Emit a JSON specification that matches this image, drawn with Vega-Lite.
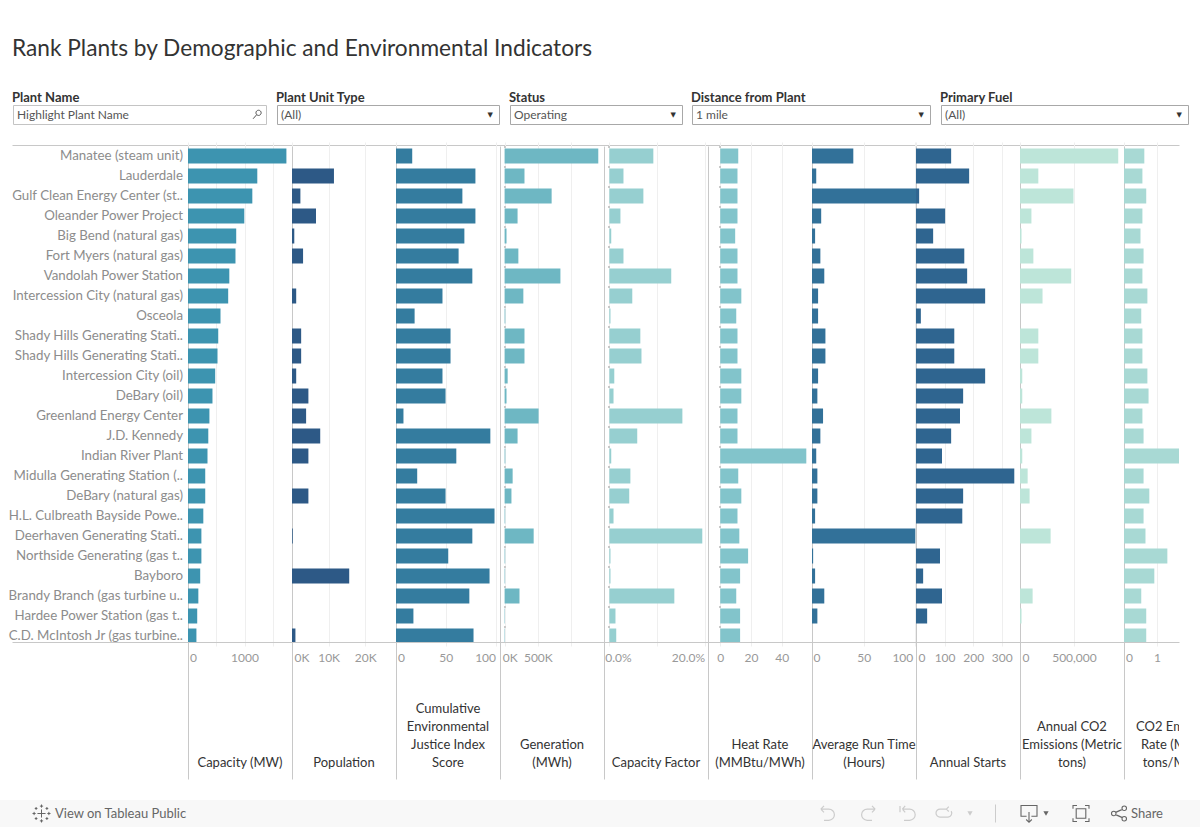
{"$schema":"https://vega.github.io/schema/vega-lite/v6.json","padding":{"left":0,"top":38,"right":0,"bottom":0},"background":"#ffffff",
"title":{"text":"Rank Plants by Demographic and Environmental Indicators","anchor":"start","fontSize":22.7,"fontWeight":"normal","color":"#333333","dx":12,"offset":30},
"config":{"font":"Lato","view":{"stroke":null},"axis":{"title":null,"domainColor":"#c8c8c8","domainWidth":1,"gridColor":"#efefef","tickColor":"#efefef","tickSize":4,"labelColor":"#999999","labelFontSize":12,"labelPadding":6,"labelOverlap":false,"labelFlush":false},"axisY":{"labels":false,"ticks":false,"grid":false,"title":null},"axisX":{"grid":true,"ticks":true},"text":{"fontSize":13}},
"datasets":{"plants":[
{"rank":1,"plant":"Manatee (steam unit)","capacity":1741,"population":null,"ceji":16.3,"generation":1408000,"cf":0.0924,"heat":11.7,"runtime":40,"starts":123,"co2":911000,"rate":0.616},
{"rank":2,"plant":"Lauderdale","capacity":1226,"population":11458,"ceji":79.8,"generation":299000,"cf":0.0297,"heat":11.2,"runtime":4.1,"starts":186,"co2":170000,"rate":0.558},
{"rank":3,"plant":"Gulf Clean Energy Center (st..","capacity":1138,"population":2292,"ceji":66.7,"generation":707000,"cf":0.0715,"heat":11.2,"runtime":101,"starts":11,"co2":496000,"rate":0.674},
{"rank":4,"plant":"Oleander Power Project","capacity":996,"population":6562,"ceji":79.8,"generation":195000,"cf":0.0233,"heat":11.2,"runtime":8.9,"starts":102,"co2":106000,"rate":0.558},
{"rank":5,"plant":"Big Bend (natural gas)","capacity":853,"population":625,"ceji":68.7,"generation":29000,"cf":0.004,"heat":9.7,"runtime":3,"starts":60,"co2":14000,"rate":0.5},
{"rank":6,"plant":"Fort Myers (natural gas)","capacity":840,"population":3021,"ceji":62.9,"generation":207000,"cf":0.0297,"heat":11.2,"runtime":8.1,"starts":169,"co2":124000,"rate":0.593},
{"rank":7,"plant":"Vandolah Power Station","capacity":731,"population":null,"ceji":76.7,"generation":839000,"cf":0.13,"heat":11.2,"runtime":11.9,"starts":179,"co2":475000,"rate":0.558},
{"rank":8,"plant":"Intercession City (natural gas)","capacity":711,"population":1146,"ceji":46.7,"generation":282000,"cf":0.0482,"heat":13.7,"runtime":5.9,"starts":242,"co2":209000,"rate":0.709},
{"rank":9,"plant":"Osceola","capacity":575,"population":null,"ceji":18.7,"generation":11000,"cf":0.0024,"heat":10.4,"runtime":5.9,"starts":17,"co2":null,"rate":0.523},
{"rank":10,"plant":"Shady Hills Generating Stati..","capacity":535,"population":2500,"ceji":54.8,"generation":299000,"cf":0.0651,"heat":11.2,"runtime":13,"starts":134,"co2":170000,"rate":0.558},
{"rank":11,"plant":"Shady Hills Generating Stati..","capacity":522,"population":2500,"ceji":54.8,"generation":299000,"cf":0.0675,"heat":11.2,"runtime":13,"starts":134,"co2":170000,"rate":0.558},
{"rank":12,"plant":"Intercession City (oil)","capacity":481,"population":1146,"ceji":46.7,"generation":46000,"cf":0.0104,"heat":13.7,"runtime":5.9,"starts":242,"co2":21000,"rate":0.709},
{"rank":13,"plant":"DeBary (oil)","capacity":433,"population":4479,"ceji":49.8,"generation":29000,"cf":0.0088,"heat":13.7,"runtime":5.2,"starts":165,"co2":21000,"rate":0.744},
{"rank":14,"plant":"Greenland Energy Center","capacity":379,"population":3854,"ceji":7.5,"generation":511000,"cf":0.1534,"heat":11.2,"runtime":10.7,"starts":154,"co2":291000,"rate":0.558},
{"rank":15,"plant":"J.D. Kennedy","capacity":359,"population":7708,"ceji":94.8,"generation":195000,"cf":0.0586,"heat":11.2,"runtime":8.1,"starts":123,"co2":106000,"rate":0.593},
{"rank":16,"plant":"Indian River Plant","capacity":345,"population":4479,"ceji":60.6,"generation":11000,"cf":0.004,"heat":55.9,"runtime":4.1,"starts":91,"co2":21000,"rate":1.8},
{"rank":17,"plant":"Midulla Generating Station (..","capacity":305,"population":null,"ceji":21.3,"generation":121000,"cf":0.0442,"heat":11.7,"runtime":5.2,"starts":344,"co2":71000,"rate":0.593},
{"rank":18,"plant":"DeBary (natural gas)","capacity":305,"population":4479,"ceji":49.8,"generation":103000,"cf":0.0418,"heat":13.7,"runtime":5.2,"starts":165,"co2":89000,"rate":0.767},
{"rank":19,"plant":"H.L. Culbreath Bayside Powe..","capacity":271,"population":null,"ceji":99,"generation":9000,"cf":0.0088,"heat":11.2,"runtime":3,"starts":162,"co2":null,"rate":0.593},
{"rank":20,"plant":"Deerhaven Generating Stati..","capacity":237,"population":200,"ceji":76.7,"generation":437000,"cf":0.1952,"heat":12.4,"runtime":100,"starts":null,"co2":284000,"rate":0.651},
{"rank":21,"plant":"Northside Generating (gas t..","capacity":237,"population":null,"ceji":52.5,"generation":9000,"cf":0.0024,"heat":18.1,"runtime":1.1,"starts":84,"co2":null,"rate":1.314},
{"rank":22,"plant":"Bayboro","capacity":216,"population":15625,"ceji":94,"generation":8000,"cf":0.0024,"heat":12.9,"runtime":3,"starts":25,"co2":null,"rate":0.919},
{"rank":23,"plant":"Brandy Branch (gas turbine u..","capacity":183,"population":null,"ceji":73.7,"generation":224000,"cf":0.1365,"heat":10.4,"runtime":11.9,"starts":91,"co2":117000,"rate":0.523},
{"rank":24,"plant":"Hardee Power Station (gas t..","capacity":163,"population":null,"ceji":17.5,"generation":6000,"cf":0.0129,"heat":12.9,"runtime":5.2,"starts":39,"co2":14000,"rate":0.674},
{"rank":25,"plant":"C.D. McIntosh Jr (gas turbine..","capacity":149,"population":938,"ceji":77.9,"generation":6000,"cf":0.0145,"heat":12.9,"runtime":null,"starts":null,"co2":null,"rate":0.674}
]},
"vconcat":[
{"hconcat":[
{"width":13,"height":19,"data":{"values":[{}]},"mark":{"type":"text","text":""},"encoding":{}},
{"width":253,"height":19,"view":{"stroke":"#c4c4c4","fill":"#ffffff"},"title":{"text":"Plant Name","anchor":"start","fontSize":13,"fontWeight":"bold","color":"#333333","dx":-1,"offset":0.5},"data":{"values":[{"value":"Highlight Plant Name"}]},"layer":[{"mark":{"type":"text","fontSize":12,"align":"left","dx":4,"color":"#555555"},"encoding":{"x":{"datum":0,"type":"quantitative","scale":{"domain":[0,1]},"axis":null},"text":{"field":"value"}}},{"mark":{"type":"point","filled":false,"stroke":"#555555","strokeWidth":1,"opacity":1,"size":90,"shape":"M0.9,-0.35 A0.55,0.55 0 1 1 -0.2,-0.35 A0.55,0.55 0 1 1 0.9,-0.35 M-0.05,0.05 L-0.8,0.9"},"encoding":{"x":{"datum":0.964,"type":"quantitative","scale":{"domain":[0,1]},"axis":null}}}]},
{"width":11,"height":19,"data":{"values":[{}]},"mark":{"type":"text","text":""},"encoding":{}},
{"width":222,"height":19,"view":{"stroke":"#a8a8a8","fill":"#ffffff"},"title":{"text":"Plant Unit Type","anchor":"start","fontSize":13,"fontWeight":"bold","color":"#333333","dx":-1,"offset":0.5},"data":{"values":[{"value":"(All)"}]},"layer":[{"mark":{"type":"text","fontSize":12,"align":"left","dx":4,"color":"#555555"},"encoding":{"x":{"datum":0,"type":"quantitative","scale":{"domain":[0,1]},"axis":null},"text":{"field":"value"}}},{"mark":{"type":"text","text":"▼","font":"DejaVu Sans","fontSize":7,"align":"right","dx":-6,"color":"#333333"},"encoding":{"x":{"datum":1,"type":"quantitative","scale":{"domain":[0,1]},"axis":null}}}]},
{"width":11,"height":19,"data":{"values":[{}]},"mark":{"type":"text","text":""},"encoding":{}},
{"width":172,"height":19,"view":{"stroke":"#a8a8a8","fill":"#ffffff"},"title":{"text":"Status","anchor":"start","fontSize":13,"fontWeight":"bold","color":"#333333","dx":-1,"offset":0.5},"data":{"values":[{"value":"Operating"}]},"layer":[{"mark":{"type":"text","fontSize":12,"align":"left","dx":4,"color":"#555555"},"encoding":{"x":{"datum":0,"type":"quantitative","scale":{"domain":[0,1]},"axis":null},"text":{"field":"value"}}},{"mark":{"type":"text","text":"▼","font":"DejaVu Sans","fontSize":7,"align":"right","dx":-6,"color":"#333333"},"encoding":{"x":{"datum":1,"type":"quantitative","scale":{"domain":[0,1]},"axis":null}}}]},
{"width":10,"height":19,"data":{"values":[{}]},"mark":{"type":"text","text":""},"encoding":{}},
{"width":238,"height":19,"view":{"stroke":"#a8a8a8","fill":"#ffffff"},"title":{"text":"Distance from Plant","anchor":"start","fontSize":13,"fontWeight":"bold","color":"#333333","dx":-1,"offset":0.5},"data":{"values":[{"value":"1 mile"}]},"layer":[{"mark":{"type":"text","fontSize":12,"align":"left","dx":4,"color":"#555555"},"encoding":{"x":{"datum":0,"type":"quantitative","scale":{"domain":[0,1]},"axis":null},"text":{"field":"value"}}},{"mark":{"type":"text","text":"▼","font":"DejaVu Sans","fontSize":7,"align":"right","dx":-6,"color":"#333333"},"encoding":{"x":{"datum":1,"type":"quantitative","scale":{"domain":[0,1]},"axis":null}}}]},
{"width":11,"height":19,"data":{"values":[{}]},"mark":{"type":"text","text":""},"encoding":{}},
{"width":247,"height":19,"view":{"stroke":"#a8a8a8","fill":"#ffffff"},"title":{"text":"Primary Fuel","anchor":"start","fontSize":13,"fontWeight":"bold","color":"#333333","dx":-1,"offset":0.5},"data":{"values":[{"value":"(All)"}]},"layer":[{"mark":{"type":"text","fontSize":12,"align":"left","dx":4,"color":"#555555"},"encoding":{"x":{"datum":0,"type":"quantitative","scale":{"domain":[0,1]},"axis":null},"text":{"field":"value"}}},{"mark":{"type":"text","text":"▼","font":"DejaVu Sans","fontSize":7,"align":"right","dx":-6,"color":"#333333"},"encoding":{"x":{"datum":1,"type":"quantitative","scale":{"domain":[0,1]},"axis":null}}}]}
],"spacing":0,"bounds":"flush","align":"each"},
{"width":1200,"height":19,"data":{"values":[{}]},"mark":{"type":"text","text":""},"encoding":{}},
{"hconcat":[
{"width":12,"height":1,"data":{"values":[{}]},"mark":{"type":"text","text":"","fontSize":0},"encoding":{}},
{"width":1167,"height":1,"data":{"values":[{"x":0}]},"mark":{"type":"text","text":"","fontSize":0},"encoding":{"x":{"field":"x","type":"quantitative","scale":{"domain":[0,1]},"axis":{"labels":false,"ticks":false,"grid":false,"values":[]}}}}
],"spacing":0,"bounds":"flush","align":"each"},
{"columns":12,"spacing":0,"bounds":"flush","align":"each","concat":[
{"width":12,"height":496,"data":{"values":[{}]},"mark":{"type":"text","text":""},"encoding":{}},
{"width":176,"height":496,"data":{"name":"plants"},"mark":{"type":"text","fontSize":13.3,"align":"right","dx":-5,"color":"#8c8c8c","clip":false},"encoding":{"x":{"datum":1,"type":"quantitative","scale":{"domain":[0,1]},"axis":{"labels":false,"ticks":false,"grid":false,"values":[]}},"y":{"field":"rank","type":"ordinal","scale":{"range":[0,500]},"axis":null},"text":{"field":"plant"}}},
{"width":104,"height":496,"data":{"name":"plants"},"mark":{"type":"bar","color":"#3d94b0","clip":true},"encoding":{"y":{"field":"rank","type":"ordinal","scale":{"domain":[1,2,3,4,5,6,7,8,9,10,11,12,13,14,15,16,17,18,19,20,21,22,23,24,25],"range":[0,500],"paddingInner":0.25,"paddingOuter":0.125},"axis":{}},"x":{"field":"capacity","type":"quantitative","scale":{"domain":[0,1840],"nice":false},"axis":{"values":[0,500,1000,1500],"labelExpr":"datum.value%1000==0?datum.value:''","labelAlign":{"condition":{"test":"datum.value==0","value":"left"},"value":"center"},"labelOffset":{"condition":{"test":"datum.value==0","value":1.5},"value":0}}}}},
{"width":104,"height":496,"data":{"name":"plants"},"mark":{"type":"bar","color":"#2d5986","clip":true},"encoding":{"y":{"field":"rank","type":"ordinal","scale":{"domain":[1,2,3,4,5,6,7,8,9,10,11,12,13,14,15,16,17,18,19,20,21,22,23,24,25],"range":[0,500],"paddingInner":0.25,"paddingOuter":0.125},"axis":{}},"x":{"field":"population","type":"quantitative","scale":{"domain":[0,28400],"nice":false},"axis":{"values":[0,10000,20000],"labelExpr":"(datum.value/1000)+'K'","labelAlign":{"condition":{"test":"datum.value==0","value":"left"},"value":"center"},"labelOffset":{"condition":{"test":"datum.value==0","value":2},"value":0}}}}},
{"width":104,"height":496,"data":{"name":"plants"},"mark":{"type":"bar","color":"#347c9f","clip":true},"encoding":{"y":{"field":"rank","type":"ordinal","scale":{"domain":[1,2,3,4,5,6,7,8,9,10,11,12,13,14,15,16,17,18,19,20,21,22,23,24,25],"range":[0,500],"paddingInner":0.25,"paddingOuter":0.125},"axis":{}},"x":{"field":"ceji","type":"quantitative","scale":{"domain":[0,104.5],"nice":false},"axis":{"values":[0,50,100],"labelAlign":{"condition":[{"test":"datum.value==0","value":"left"},{"test":"datum.value==100","value":"right"}],"value":"center"},"labelOffset":{"condition":{"test":"datum.value==0","value":1.5},"value":0}}}}},
{"width":104,"height":496,"data":{"name":"plants"},"layer":[{"mark":{"type":"rule","color":"#c8c8c8","strokeDash":[2,18]},"encoding":{"x":{"datum":0,"type":"quantitative"}}},{"mark":{"type":"bar","color":"#6eb7c3","clip":true},"encoding":{"y":{"field":"rank","type":"ordinal","scale":{"domain":[1,2,3,4,5,6,7,8,9,10,11,12,13,14,15,16,17,18,19,20,21,22,23,24,25],"range":[0,500],"paddingInner":0.25,"paddingOuter":0.125},"axis":{}},"x":{"field":"generation","type":"quantitative","scale":{"domain":[-69000,1494000],"nice":false,"zero":false},"axis":{"values":[0,500000,1000000],"labelExpr":"datum.value==1000000?'':(datum.value/1000)+'K'","labelAlign":{"condition":{"test":"datum.value==0","value":"left"},"value":"center"},"labelOffset":{"condition":{"test":"datum.value==0","value":-2.3},"value":0}}}}}]},
{"width":104,"height":496,"data":{"name":"plants"},"layer":[{"mark":{"type":"rule","color":"#c8c8c8","strokeDash":[2,18]},"encoding":{"x":{"datum":0,"type":"quantitative"}}},{"mark":{"type":"bar","color":"#96cfd0","clip":true},"encoding":{"y":{"field":"rank","type":"ordinal","scale":{"domain":[1,2,3,4,5,6,7,8,9,10,11,12,13,14,15,16,17,18,19,20,21,22,23,24,25],"range":[0,500],"paddingInner":0.25,"paddingOuter":0.125},"axis":{}},"x":{"field":"cf","type":"quantitative","scale":{"domain":[-0.0112,0.2072],"nice":false,"zero":false},"axis":{"values":[0,0.1,0.2],"labelExpr":"datum.value==0.1?'':format(datum.value,'.1%')","labelAlign":{"condition":[{"test":"datum.value==0","value":"left"},{"test":"datum.value==0.2","value":"right"}],"value":"center"},"labelOffset":{"condition":{"test":"datum.value==0","value":-4.6},"value":0}}}}}]},
{"width":104,"height":496,"data":{"name":"plants"},"layer":[{"mark":{"type":"rule","color":"#c8c8c8","strokeDash":[2,18]},"encoding":{"x":{"datum":0,"type":"quantitative"}}},{"mark":{"type":"bar","color":"#82c4cb","clip":true},"encoding":{"y":{"field":"rank","type":"ordinal","scale":{"domain":[1,2,3,4,5,6,7,8,9,10,11,12,13,14,15,16,17,18,19,20,21,22,23,24,25],"range":[0,500],"paddingInner":0.25,"paddingOuter":0.125},"axis":{}},"x":{"field":"heat","type":"quantitative","scale":{"domain":[-7.95,59.6],"nice":false,"zero":false},"axis":{"values":[0,20,40]}}}}]},
{"width":104,"height":496,"data":{"name":"plants"},"mark":{"type":"bar","color":"#327199","clip":true},"encoding":{"y":{"field":"rank","type":"ordinal","scale":{"domain":[1,2,3,4,5,6,7,8,9,10,11,12,13,14,15,16,17,18,19,20,21,22,23,24,25],"range":[0,500],"paddingInner":0.25,"paddingOuter":0.125},"axis":{}},"x":{"field":"runtime","type":"quantitative","scale":{"domain":[0,100.7],"nice":false},"axis":{"values":[0,50,100],"labelAlign":{"condition":[{"test":"datum.value==0","value":"left"},{"test":"datum.value==100","value":"right"}],"value":"center"},"labelOffset":{"condition":[{"test":"datum.value==0","value":1},{"test":"datum.value==100","value":-2.5}],"value":0}}}}},
{"width":104,"height":496,"data":{"name":"plants"},"mark":{"type":"bar","color":"#2f6590","clip":true},"encoding":{"y":{"field":"rank","type":"ordinal","scale":{"domain":[1,2,3,4,5,6,7,8,9,10,11,12,13,14,15,16,17,18,19,20,21,22,23,24,25],"range":[0,500],"paddingInner":0.25,"paddingOuter":0.125},"axis":{}},"x":{"field":"starts","type":"quantitative","scale":{"domain":[0,364],"nice":false},"axis":{"values":[0,100,200,300],"labelAlign":{"condition":{"test":"datum.value==0","value":"left"},"value":"center"},"labelOffset":{"condition":{"test":"datum.value==0","value":2},"value":0}}}}},
{"width":104,"height":496,"data":{"name":"plants"},"mark":{"type":"bar","color":"#bde5d9","clip":true},"encoding":{"y":{"field":"rank","type":"ordinal","scale":{"domain":[1,2,3,4,5,6,7,8,9,10,11,12,13,14,15,16,17,18,19,20,21,22,23,24,25],"range":[0,500],"paddingInner":0.25,"paddingOuter":0.125},"axis":{}},"x":{"field":"co2","type":"quantitative","scale":{"domain":[0,964500],"nice":false},"axis":{"values":[0,500000],"format":",d","labelAlign":{"condition":{"test":"datum.value==0","value":"left"},"value":"center"},"labelOffset":{"condition":{"test":"datum.value==0","value":2},"value":0}}}}},
{"width":55,"height":496,"data":{"name":"plants"},"mark":{"type":"bar","color":"#a8d9d4","clip":true},"encoding":{"y":{"field":"rank","type":"ordinal","scale":{"domain":[1,2,3,4,5,6,7,8,9,10,11,12,13,14,15,16,17,18,19,20,21,22,23,24,25],"range":[0,500],"paddingInner":0.25,"paddingOuter":0.125},"axis":{}},"x":{"field":"rate","type":"quantitative","scale":{"domain":[0,1.667],"nice":false},"axis":{"values":[0,1],"labelAlign":{"condition":{"test":"datum.value==0","value":"left"},"value":"center"},"labelOffset":{"condition":{"test":"datum.value==0","value":1.5},"value":0}}}}},
{"width":12,"height":137,"data":{"values":[{}]},"mark":{"type":"text","text":""},"encoding":{}},
{"width":176,"height":137,"data":{"values":[{}]},"mark":{"type":"text","text":""},"encoding":{}},
{"width":104,"height":137,"data":{"values":[{"line":0,"text":"Capacity (MW)"}]},"mark":{"type":"text","color":"#333333"},"encoding":{"y":{"field":"line","type":"quantitative","scale":{"domain":[-0.889,6.722],"nice":false,"zero":false},"axis":{"values":[]}},"text":{"field":"text"}}},
{"width":104,"height":137,"data":{"values":[{"line":0,"text":"Population"}]},"mark":{"type":"text","color":"#333333"},"encoding":{"y":{"field":"line","type":"quantitative","scale":{"domain":[-0.889,6.722],"nice":false,"zero":false},"axis":{"values":[]}},"text":{"field":"text"}}},
{"width":104,"height":137,"data":{"values":[{"line":3,"text":"Cumulative"},{"line":2,"text":"Environmental"},{"line":1,"text":"Justice Index"},{"line":0,"text":"Score"}]},"mark":{"type":"text","color":"#333333"},"encoding":{"y":{"field":"line","type":"quantitative","scale":{"domain":[-0.889,6.722],"nice":false,"zero":false},"axis":{"values":[]}},"text":{"field":"text"}}},
{"width":104,"height":137,"data":{"values":[{"line":1,"text":"Generation"},{"line":0,"text":"(MWh)"}]},"mark":{"type":"text","color":"#333333"},"encoding":{"y":{"field":"line","type":"quantitative","scale":{"domain":[-0.889,6.722],"nice":false,"zero":false},"axis":{"values":[]}},"text":{"field":"text"}}},
{"width":104,"height":137,"data":{"values":[{"line":0,"text":"Capacity Factor"}]},"mark":{"type":"text","color":"#333333"},"encoding":{"y":{"field":"line","type":"quantitative","scale":{"domain":[-0.889,6.722],"nice":false,"zero":false},"axis":{"values":[]}},"text":{"field":"text"}}},
{"width":104,"height":137,"data":{"values":[{"line":1,"text":"Heat Rate"},{"line":0,"text":"(MMBtu/MWh)"}]},"mark":{"type":"text","color":"#333333"},"encoding":{"y":{"field":"line","type":"quantitative","scale":{"domain":[-0.889,6.722],"nice":false,"zero":false},"axis":{"values":[]}},"text":{"field":"text"}}},
{"width":104,"height":137,"data":{"values":[{"line":1,"text":"Average Run Time"},{"line":0,"text":"(Hours)"}]},"mark":{"type":"text","color":"#333333"},"encoding":{"y":{"field":"line","type":"quantitative","scale":{"domain":[-0.889,6.722],"nice":false,"zero":false},"axis":{"values":[]}},"text":{"field":"text"}}},
{"width":104,"height":137,"data":{"values":[{"line":0,"text":"Annual Starts"}]},"mark":{"type":"text","color":"#333333"},"encoding":{"y":{"field":"line","type":"quantitative","scale":{"domain":[-0.889,6.722],"nice":false,"zero":false},"axis":{"values":[]}},"text":{"field":"text"}}},
{"width":104,"height":137,"data":{"values":[{"line":2,"text":"Annual CO2"},{"line":1,"text":"Emissions (Metric"},{"line":0,"text":"tons)"}]},"mark":{"type":"text","color":"#333333"},"encoding":{"y":{"field":"line","type":"quantitative","scale":{"domain":[-0.889,6.722],"nice":false,"zero":false},"axis":{"values":[]}},"text":{"field":"text"}}},
{"width":55,"height":137,"data":{"values":[{"line":2,"text":"CO2 Emission"},{"line":1,"text":"Rate (Metric"},{"line":0,"text":"tons/MWh)"}]},"mark":{"type":"text","color":"#333333","clip":true},"encoding":{"x":{"datum":52,"type":"quantitative","scale":{"domain":[0,55],"nice":false},"axis":null},"y":{"field":"line","type":"quantitative","scale":{"domain":[-0.889,6.722],"nice":false,"zero":false},"axis":{"values":[]}},"text":{"field":"text"}}}
]},
{"width":1200,"height":21,"data":{"values":[{}]},"mark":{"type":"text","text":""},"encoding":{}},
{"width":1200,"height":27,"view":{"fill":"#f8f8f8"},"data":{"values":[{}]},"layer":[
{"mark":{"type":"text","text":"View on Tableau Public","align":"left","color":"#666666","fontSize":13},"encoding":{"x":{"datum":55,"type":"quantitative","scale":{"domain":[0,1200],"nice":false},"axis":null}}},
{"mark":{"type":"text","text":"Share","align":"left","color":"#666666","fontSize":13},"encoding":{"x":{"datum":1131,"type":"quantitative"}}},
{"mark":{"type":"point","filled":false,"opacity":1,"stroke":"#666666","strokeWidth":1,"size":324,"shape":"M0,-.45V.45M-.45,0H.45M0,-1V-.65M-.18,-.82H.18M0,1V.65M-.18,.82H.18M-1,0H-.65M-.82,-.18V.18M1,0H.65M.82,-.18V.18M-.6,-.72V-.4M-.75,-.56H-.45M.6,-.72V-.4M.45,-.56H.75M-.6,.72V.4M-.75,.56H-.45M.6,.72V.4M.45,.56H.75"},"encoding":{"x":{"datum":41.5,"type":"quantitative"}}},
{"mark":{"type":"point","filled":false,"opacity":1,"stroke":"#cccccc","strokeWidth":1.2,"size":256,"shape":"M-.9,-.55L-.5,-.95M-.9,-.55L-.5,-.15M-.9,-.55H.1A.7,.7 0 0 1 .1,.85H-.5"},"encoding":{"x":{"datum":828,"type":"quantitative"}}},
{"mark":{"type":"point","filled":false,"opacity":1,"stroke":"#cccccc","strokeWidth":1.2,"size":256,"shape":"M.9,-.55L.5,-.95M.9,-.55L.5,-.15M.9,-.55H-.1A.7,.7 0 0 0 -.1,.85H.5"},"encoding":{"x":{"datum":868,"type":"quantitative"}}},
{"mark":{"type":"point","filled":false,"opacity":1,"stroke":"#cccccc","strokeWidth":1.2,"size":256,"shape":"M-1,-.95V-.15M-.7,-.55L-.35,-.95M-.7,-.55L-.35,-.15M-.7,-.55H.2A.7,.7 0 0 1 .2,.85H-.5"},"encoding":{"x":{"datum":908,"type":"quantitative"}}},
{"mark":{"type":"point","filled":false,"opacity":1,"stroke":"#cccccc","strokeWidth":1.2,"size":256,"shape":"M.3,-.55H-.5A.5,.5 0 0 0 -.5,.45H.5A.5,.5 0 0 0 .9,-.3M.3,-.55L.6,-.85M.3,-.55L.6,-.25"},"encoding":{"x":{"datum":944,"type":"quantitative"}}},
{"mark":{"type":"point","filled":true,"opacity":1,"color":"#cccccc","size":28,"shape":"triangle-down"},"encoding":{"x":{"datum":970,"type":"quantitative"}}},
{"mark":{"type":"point","filled":false,"opacity":1,"stroke":"#cccccc","strokeWidth":1,"size":324,"shape":"M0,-1V1"},"encoding":{"x":{"datum":995.5,"type":"quantitative"}}},
{"mark":{"type":"point","filled":false,"opacity":1,"stroke":"#666666","strokeWidth":1.1,"size":256,"shape":"M-.3,.35H-1V-1H1V.35H.3M0,-.2V1.1M-.35,.75L0,1.1L.35,.75"},"encoding":{"x":{"datum":1029,"type":"quantitative"}}},
{"mark":{"type":"point","filled":true,"opacity":1,"color":"#666666","size":28,"shape":"triangle-down"},"encoding":{"x":{"datum":1046,"type":"quantitative"}}},
{"mark":{"type":"point","filled":false,"opacity":1,"stroke":"#666666","strokeWidth":1.1,"size":256,"shape":"M-1,-.6V-1H-.5M.5,-1H1V-.6M1,.6V1H.5M-.5,1H-1V.6M-.6,-.6H.6V.6H-.6Z"},"encoding":{"x":{"datum":1081,"type":"quantitative"}}},
{"mark":{"type":"point","filled":false,"opacity":1,"stroke":"#666666","strokeWidth":1.1,"size":225,"shape":"M-.4,0A.3,.3 0 1 1 -1,0A.3,.3 0 1 1 -.4,0M1,-.7A.3,.3 0 1 1 .4,-.7A.3,.3 0 1 1 1,-.7M1,.7A.3,.3 0 1 1 .4,.7A.3,.3 0 1 1 1,.7M-.45,-.15L.45,-.55M-.45,.15L.45,.55"},"encoding":{"x":{"datum":1119,"type":"quantitative"}}}
]}
],"spacing":0,"bounds":"full","align":"none"}
